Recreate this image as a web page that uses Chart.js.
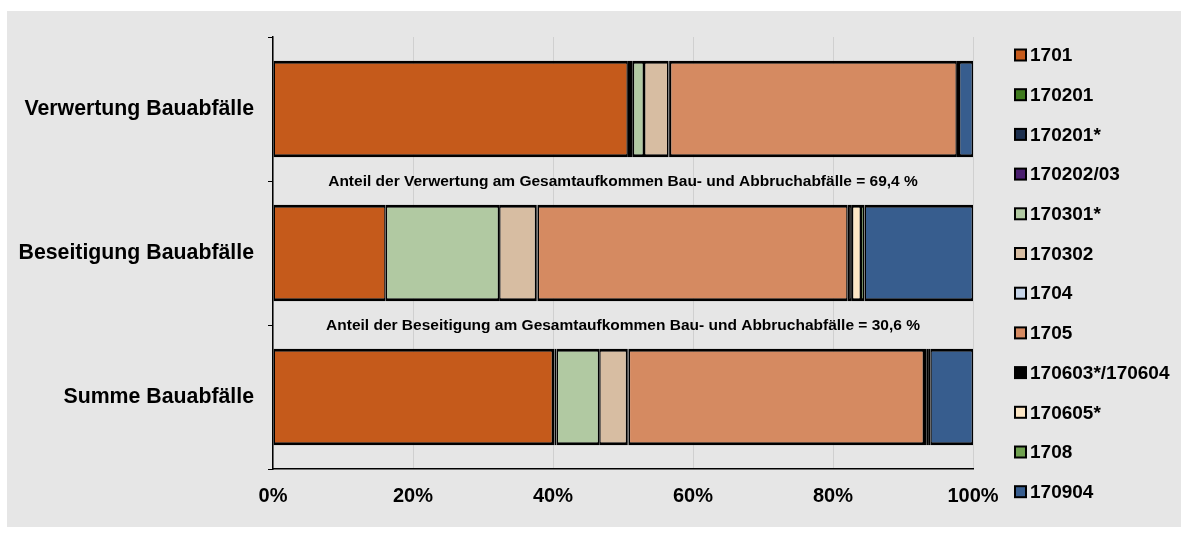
<!DOCTYPE html>
<html>
<head>
<meta charset="utf-8">
<script src="https://cdn.jsdelivr.net/npm/chart.js@4.4.1/dist/chart.umd.min.js"></script>
<style>
  html, body { margin: 0; padding: 0; background: #ffffff; }
  #wrap { width: 1189px; height: 534px; }
</style>
</head>
<body>
<div id="wrap"><canvas id="c" width="1189" height="534"></canvas></div>
<script>
// ---- Data ----
const categories = ['Verwertung Bauabfälle', 'Beseitigung Bauabfälle', 'Summe Bauabfälle'];
const seriesNames = ['1701', '170201', '170201*', '170202/03', '170301*', '170302', '1704', '1705', '170603*/170604', '170605*', '1708', '170904'];
const s1701      = [50.7, 16.1, 40.0];
const s170201    = [0.3, 0.0, 0.2];
const s170201s   = [0.4, 0.0, 0.3];
const s170202_03 = [0.0, 0.0, 0.0];
const s170301s   = [1.6, 16.2, 6.1];
const s170302    = [3.5, 5.3, 4.0];
const s1704      = [0.2, 0.2, 0.2];
const s1705      = [41.0, 44.3, 42.2];
const s170603    = [0.3, 0.6, 0.4];
const s170605s   = [0.0, 1.3, 0.3];
const s1708      = [0.0, 0.5, 0.2];
const s170904    = [2.0, 15.5, 6.1];
const seriesValues = [s1701, s170201, s170201s, s170202_03, s170301s, s170302, s1704, s1705, s170603, s170605s, s1708, s170904];
const seriesColors = ['#C55A1B', '#3F7A1E', '#1C2F4E', '#4A1E6E', '#B1C9A2', '#D7BDA2', '#C8D6E9', '#D58A61', '#000000', '#FCE6C5', '#6FA04F', '#375D8E'];
const xTickLabels = ['0%', '20%', '40%', '60%', '80%', '100%'];
const annotations = [
  'Anteil der Verwertung am Gesamtaufkommen Bau- und Abbruchabfälle = 69,4 %',
  'Anteil der Beseitigung am Gesamtaufkommen Bau- und Abbruchabfälle = 30,6 %'
];

const FONT = "'Liberation Sans', Arial, sans-serif";

const bgPlugin = {
  id: 'bg',
  beforeDraw(chart) {
    const ctx = chart.ctx;
    ctx.save();
    ctx.fillStyle = '#ffffff';
    ctx.fillRect(0, 0, chart.width, chart.height);
    ctx.fillStyle = '#E6E6E6';
    ctx.fillRect(7, 11, 1174, 516);
    ctx.restore();
  }
};

const annoPlugin = {
  id: 'anno',
  afterDatasetsDraw(chart) {
    const ctx = chart.ctx;
    const y = chart.scales.y;
    const a = chart.chartArea;
    ctx.save();
    ctx.fillStyle = '#000';
    ctx.font = 'bold 15.5px ' + FONT;
    ctx.textAlign = 'center';
    ctx.textBaseline = 'middle';
    annotations.forEach((t, i) => {
      const py = (y.getPixelForValue(i) + y.getPixelForValue(i + 1)) / 2 + 1;
      ctx.fillText(t, (a.left + a.right) / 2, py);
    });
    ctx.restore();
  }
};

const legendPlugin = {
  id: 'customLegend',
  afterDraw(chart) {
    const ctx = chart.ctx;
    ctx.save();
    ctx.font = 'bold 19px ' + FONT;
    ctx.textBaseline = 'middle';
    ctx.textAlign = 'left';
    chart.data.datasets.forEach((ds, i) => {
      const cy = 55 + i * 39.7;
      ctx.fillStyle = ds.backgroundColor;
      ctx.fillRect(1015, cy - 5.5, 11, 11);
      ctx.strokeStyle = '#000';
      ctx.lineWidth = 2;
      ctx.strokeRect(1015, cy - 5.5, 11, 11);
      ctx.fillStyle = '#000';
      ctx.fillText(ds.label, 1030, cy + 1);
    });
    ctx.restore();
  }
};

const datasets = seriesNames.map((name, i) => ({
  label: name,
  data: seriesValues[i],
  backgroundColor: seriesColors[i],
  borderColor: '#000000',
  borderWidth: { top: 3, bottom: 3, left: 1.5, right: 1.5 },
  borderSkipped: false,
  barPercentage: 0.67,
  categoryPercentage: 1.0
}));

new Chart(document.getElementById('c'), {
  type: 'bar',
  data: { labels: categories, datasets },
  options: {
    indexAxis: 'y',
    responsive: false,
    devicePixelRatio: 1,
    animation: false,
    layout: { padding: { top: 37, right: 216, bottom: 0, left: 0 } },
    plugins: { legend: { display: false }, tooltip: { enabled: false } },
    scales: {
      x: {
        stacked: true,
        min: 0, max: 100,
        ticks: {
          stepSize: 20,
          color: '#000',
          font: { family: FONT, size: 20, weight: 'bold' },
          padding: 15,
          maxRotation: 0,
          callback: (v) => xTickLabels[Math.round(v / 20)]
        },
        grid: { color: 'rgba(110,110,110,0.18)', drawTicks: false, lineWidth: 1 },
        border: { color: '#000', width: 1.5, dash: [] },
        afterFit(s) { s.height = 65; }
      },
      y: {
        stacked: true,
        ticks: {
          color: '#000',
          font: { family: FONT, size: 21.3, weight: 'bold' },
          padding: 14
        },
        grid: { drawOnChartArea: false, tickLength: 5, color: '#000', lineWidth: 1 },
        border: { color: '#000', width: 1.5 },
        afterFit(s) { s.width = 273; }
      }
    }
  },
  plugins: [bgPlugin, annoPlugin, legendPlugin]
});
</script>
</body>
</html>
